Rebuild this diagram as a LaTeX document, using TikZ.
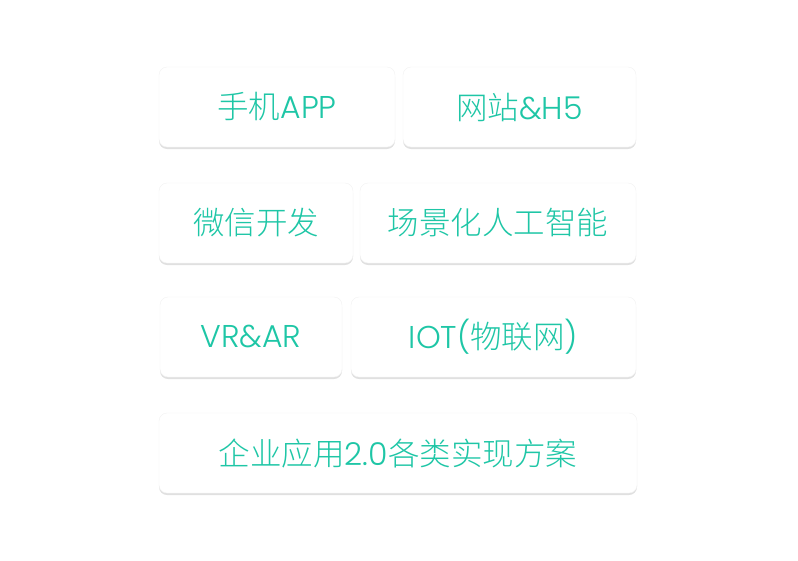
\documentclass[tikz,border=0pt]{standalone}
\usepackage{fontspec}
\setmainfont{Poppins}[UprightFont={* Light}]
\newfontfamily\zh{Noto Sans CJK SC Light}
\usetikzlibrary{shadows}
\definecolor{mint}{HTML}{1EC6A6}
\begin{document}
\begin{tikzpicture}[x=1pt, y=-1pt,
    card/.style={draw=black!5, fill=white, rounded corners=8pt, minimum height=80pt, inner sep=0pt,
        text=mint, font=\fontsize{31.5}{31.5}\selectfont,
        drop shadow={shadow xshift=0pt, shadow yshift=-2pt, opacity=0.12, fill=black}}]
    \useasboundingbox (0,0) rectangle (798,560);
    \node [card, minimum width=236pt] (App) at (277,107) {{\zh 手机}APP};
    \node [card, minimum width=233pt] (Web) at (519.5,107) {{\zh 网站}\&H5};
    \node [card, minimum width=194pt] (WeChat) at (256,223) {\zh 微信开发};
    \node [card, minimum width=276pt] (AI) at (498,223) {\zh 场景化人工智能};
    \node [card, minimum width=182pt] (VR) at (251,337) {VR\&AR};
    \node [card, minimum width=285pt] (IOT) at (493.5,337) {IOT({\zh 物联网})};
    \node [card, minimum width=478pt] (Ent) at (398,453) {{\zh 企业应用}2.0{\zh 各类实现方案}};
\end{tikzpicture}
\end{document}
